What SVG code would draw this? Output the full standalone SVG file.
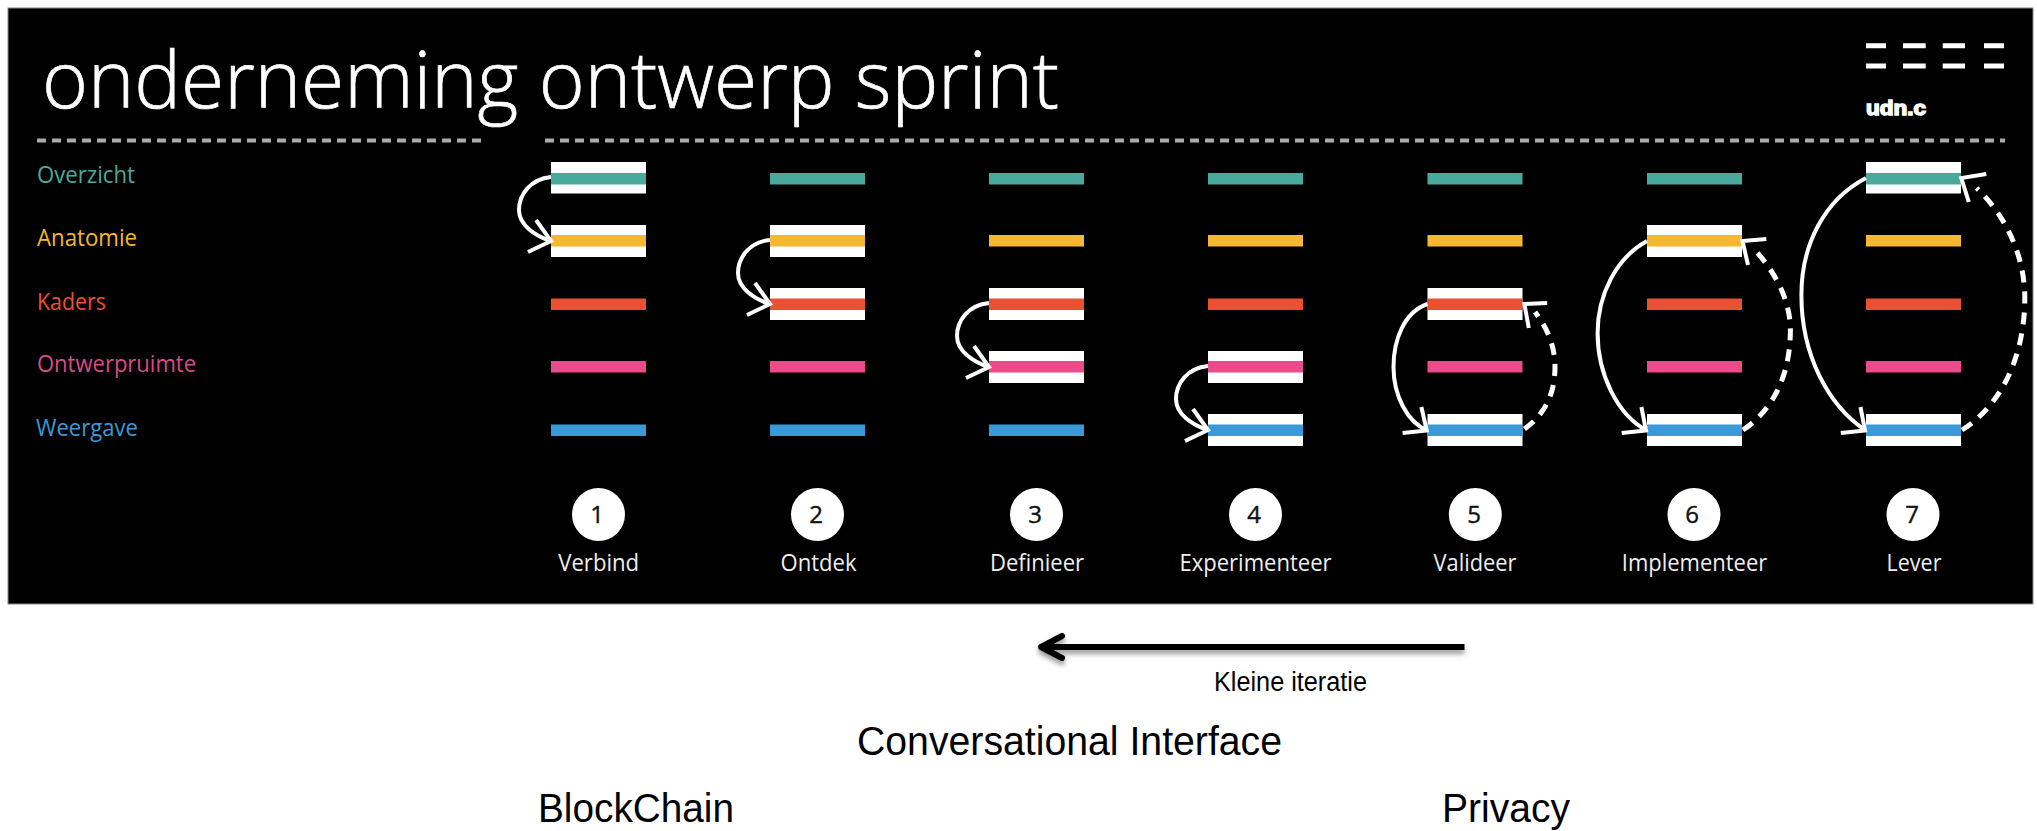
<svg xmlns="http://www.w3.org/2000/svg" width="2037" height="831" viewBox="0 0 2037 831">
<defs>
<filter id="sh" x="-5%" y="-50%" width="110%" height="250%"><feDropShadow dx="0" dy="4" stdDeviation="2.5" flood-color="#000" flood-opacity="0.4"/></filter>
<g id="rows">
<rect class="t" y="173" width="95" height="11.5"/>
<rect class="y" y="235" width="95" height="11.5"/>
<rect class="r" y="298.5" width="95" height="11.5"/>
<rect class="p" y="361" width="95" height="11.5"/>
<rect class="w" y="424.5" width="95" height="11.5"/>
</g>
</defs>
<style>
.t{fill:#4aa99d}.y{fill:#f6b731}.r{fill:#ea5032}.p{fill:#ea4c8b}.w{fill:#3a9ad9}
.hl{fill:#fff}
.lab{font-family:"Open Sans","Noto Sans",sans-serif;font-size:23px}
.step{font-family:"Open Sans","Noto Sans",sans-serif;font-size:24px;fill:#eee;text-anchor:middle}
.num{font-family:"Open Sans","Noto Sans",sans-serif;font-size:24px;fill:#111;stroke:#111;stroke-width:.4;text-anchor:middle}
.note{font-family:"Liberation Sans",Arial,sans-serif;fill:#000}
.s{fill:none;stroke:#fff;stroke-width:4}
.d{fill:none;stroke:#fff;stroke-width:5;stroke-dasharray:12 9}
.h{fill:none;stroke:#fff;stroke-width:4}
.rule{stroke:#aaa;stroke-width:4;stroke-dasharray:9 6;fill:none}
.logo{stroke:#fff;stroke-width:5;fill:none}
</style>
<rect width="2037" height="831" fill="#fff"/>
<rect id="panel" x="8" y="8" width="2025" height="596" fill="#000" stroke="#888" stroke-width="1"/>
<text x="42" y="108" font-family="'Open Sans','Noto Sans',sans-serif" font-weight="300" font-size="80" fill="#fff" stroke="#fff" stroke-width=".7" textLength="1017" lengthAdjust="spacingAndGlyphs">onderneming ontwerp sprint</text>
<path class="rule" d="M37 140.5H482M545 140.5H2005"/>
<g id="logo">
<path class="logo" d="M1866 45.7H1886M1903 45.7H1925.7M1942.7 45.7H1965M1984 45.7H2004M1866 66H1886M1903 66H1925.7M1942.7 66H1965M1984 66H2004"/>
<text x="1866" y="115" font-family="'Liberation Sans',sans-serif" font-weight="700" font-size="20" fill="#fff" stroke="#fff" stroke-width="1.5" textLength="60" lengthAdjust="spacingAndGlyphs">udn.c</text>
</g>
<g id="legend">
<text id="l1" class="lab" x="37" y="183.3" fill="#4aa99d" textLength="98" lengthAdjust="spacingAndGlyphs">Overzicht</text>
<text id="l2" class="lab" x="37" y="246" fill="#f6b731" textLength="100" lengthAdjust="spacingAndGlyphs">Anatomie</text>
<text id="l3" class="lab" x="37" y="310" fill="#ea5032" textLength="69" lengthAdjust="spacingAndGlyphs">Kaders</text>
<text id="l4" class="lab" x="37" y="371.7" fill="#d94a88" textLength="159" lengthAdjust="spacingAndGlyphs">Ontwerpruimte</text>
<text id="l5" class="lab" x="36" y="435.7" fill="#3a9ad9" textLength="102" lengthAdjust="spacingAndGlyphs">Weergave</text>
</g>
<g id="step1">
<rect class="hl" x="551" y="162" width="95" height="31.5"/><rect class="hl" x="551" y="225" width="95" height="32"/>
<use href="#rows" x="551"/>
<circle cx="598.5" cy="514.5" r="26.5" fill="#fff"/><text class="num" x="597" y="523">1</text><text class="step" x="598.7" y="571" textLength="81" lengthAdjust="spacingAndGlyphs">Verbind</text>
</g>
<g id="step2">
<rect class="hl" x="770" y="225" width="95" height="32"/><rect class="hl" x="770" y="288" width="95" height="32"/>
<use href="#rows" x="770"/>
<circle cx="817.5" cy="514.5" r="26.5" fill="#fff"/><text class="num" x="816" y="523">2</text><text class="step" x="818.5" y="571" textLength="76" lengthAdjust="spacingAndGlyphs">Ontdek</text>
</g>
<g id="step3">
<rect class="hl" x="989" y="288" width="95" height="32"/><rect class="hl" x="989" y="351" width="95" height="32"/>
<use href="#rows" x="989"/>
<circle cx="1036.5" cy="514.5" r="26.5" fill="#fff"/><text class="num" x="1035" y="523">3</text><text class="step" x="1037" y="571" textLength="94" lengthAdjust="spacingAndGlyphs">Definieer</text>
</g>
<g id="step4">
<rect class="hl" x="1208" y="351" width="95" height="32"/><rect class="hl" x="1208" y="414" width="95" height="32"/>
<use href="#rows" x="1208"/>
<circle cx="1255.5" cy="514.5" r="26.5" fill="#fff"/><text class="num" x="1254" y="523">4</text><text class="step" x="1255.5" y="571" textLength="152" lengthAdjust="spacingAndGlyphs">Experimenteer</text>
</g>
<g id="step5">
<rect class="hl" x="1427.5" y="288" width="95" height="32"/><rect class="hl" x="1427.5" y="414" width="95" height="32"/>
<use href="#rows" x="1427.5"/>
<circle cx="1475.3" cy="514.5" r="26.5" fill="#fff"/><text class="num" x="1474" y="523">5</text><text class="step" x="1475" y="571" textLength="83" lengthAdjust="spacingAndGlyphs">Valideer</text>
</g>
<g id="step6">
<rect class="hl" x="1647" y="225" width="95" height="32"/><rect class="hl" x="1647" y="414" width="95" height="32"/>
<use href="#rows" x="1647"/>
<circle cx="1694" cy="514.5" r="26.5" fill="#fff"/><text class="num" x="1692" y="523">6</text><text class="step" x="1694.5" y="571" textLength="145.5" lengthAdjust="spacingAndGlyphs">Implementeer</text>
</g>
<g id="step7">
<rect class="hl" x="1866" y="162" width="95" height="31.5"/><rect class="hl" x="1866" y="414" width="95" height="32"/>
<use href="#rows" x="1866"/>
<circle cx="1913" cy="514.5" r="26.5" fill="#fff"/><text class="num" x="1912" y="523">7</text><text class="step" x="1914" y="571" textLength="55" lengthAdjust="spacingAndGlyphs">Lever</text>
</g>
<g id="connectors">
<path class="s" d="M551 177C530 179 519 195 519 210C519 225 535 236 551 241"/><path class="h" d="M536 220L551 241L528 252"/>
<path class="s" d="M770 240C749 242 738 258 738 273C738 288 754 299 770 304"/><path class="h" d="M755 283L770 304L747 315"/>
<path class="s" d="M989 303C968 305 957 321 957 336C957 351 973 362 989 367"/><path class="h" d="M974 346L989 367L966 378"/>
<path class="s" d="M1208 366C1187 368 1176 384 1176 399C1176 414 1192 425 1208 430"/><path class="h" d="M1193 409L1208 430L1185 441"/>
<path class="s" d="M1427.5 304C1404 312 1393.5 340 1393.5 367C1393.5 395 1407 422 1426.7 430"/><path class="h" d="M1421.4 407L1426.7 430.5L1402.6 433"/>
<path class="d" d="M1524.5 429C1544 415 1555 395 1555 367C1555 345 1547 328 1535 312"/><path class="h" d="M1547.2 303L1524.4 304L1528.8 328"/>
<path class="s" d="M1647 241C1616 258 1597.6 295 1597.6 333C1597.6 375 1618 415 1646 430"/><path class="h" d="M1641.4 407L1646 430.5L1621.7 433"/>
<path class="d" d="M1743 430C1773 410 1790.4 375 1790.4 330C1790.4 300 1775 272 1755 250"/><path class="h" d="M1766.3 239L1742.5 241L1748 265"/>
<path class="s" d="M1866 178C1824 200 1801.4 245 1801.4 295C1801.4 355 1828 405 1865 430"/><path class="h" d="M1860.5 407L1865 430.5L1840.8 433"/>
<path class="d" d="M1962 430C2002 405 2024.8 355 2024.8 298C2024.8 255 2005 215 1976.6 188"/><path class="h" d="M1986.3 174L1961.3 178L1968.8 202"/>
</g>
<g id="iteration" filter="url(#sh)">
<path d="M1464.5 647H1042" fill="none" stroke="#000" stroke-width="6"/>
<path d="M1062 636L1041 647L1062 658" fill="none" stroke="#000" stroke-width="6" stroke-linecap="round" stroke-linejoin="round"/>
</g>
<text class="note" x="1214" y="691" font-size="27" textLength="153" lengthAdjust="spacingAndGlyphs">Kleine iteratie</text>
<text class="note" x="857" y="755" font-size="40" textLength="425" lengthAdjust="spacingAndGlyphs">Conversational Interface</text>
<text class="note" x="538" y="821.5" font-size="40" textLength="196" lengthAdjust="spacingAndGlyphs">BlockChain</text>
<text class="note" x="1442" y="821.5" font-size="40" textLength="128" lengthAdjust="spacingAndGlyphs">Privacy</text>
</svg>
